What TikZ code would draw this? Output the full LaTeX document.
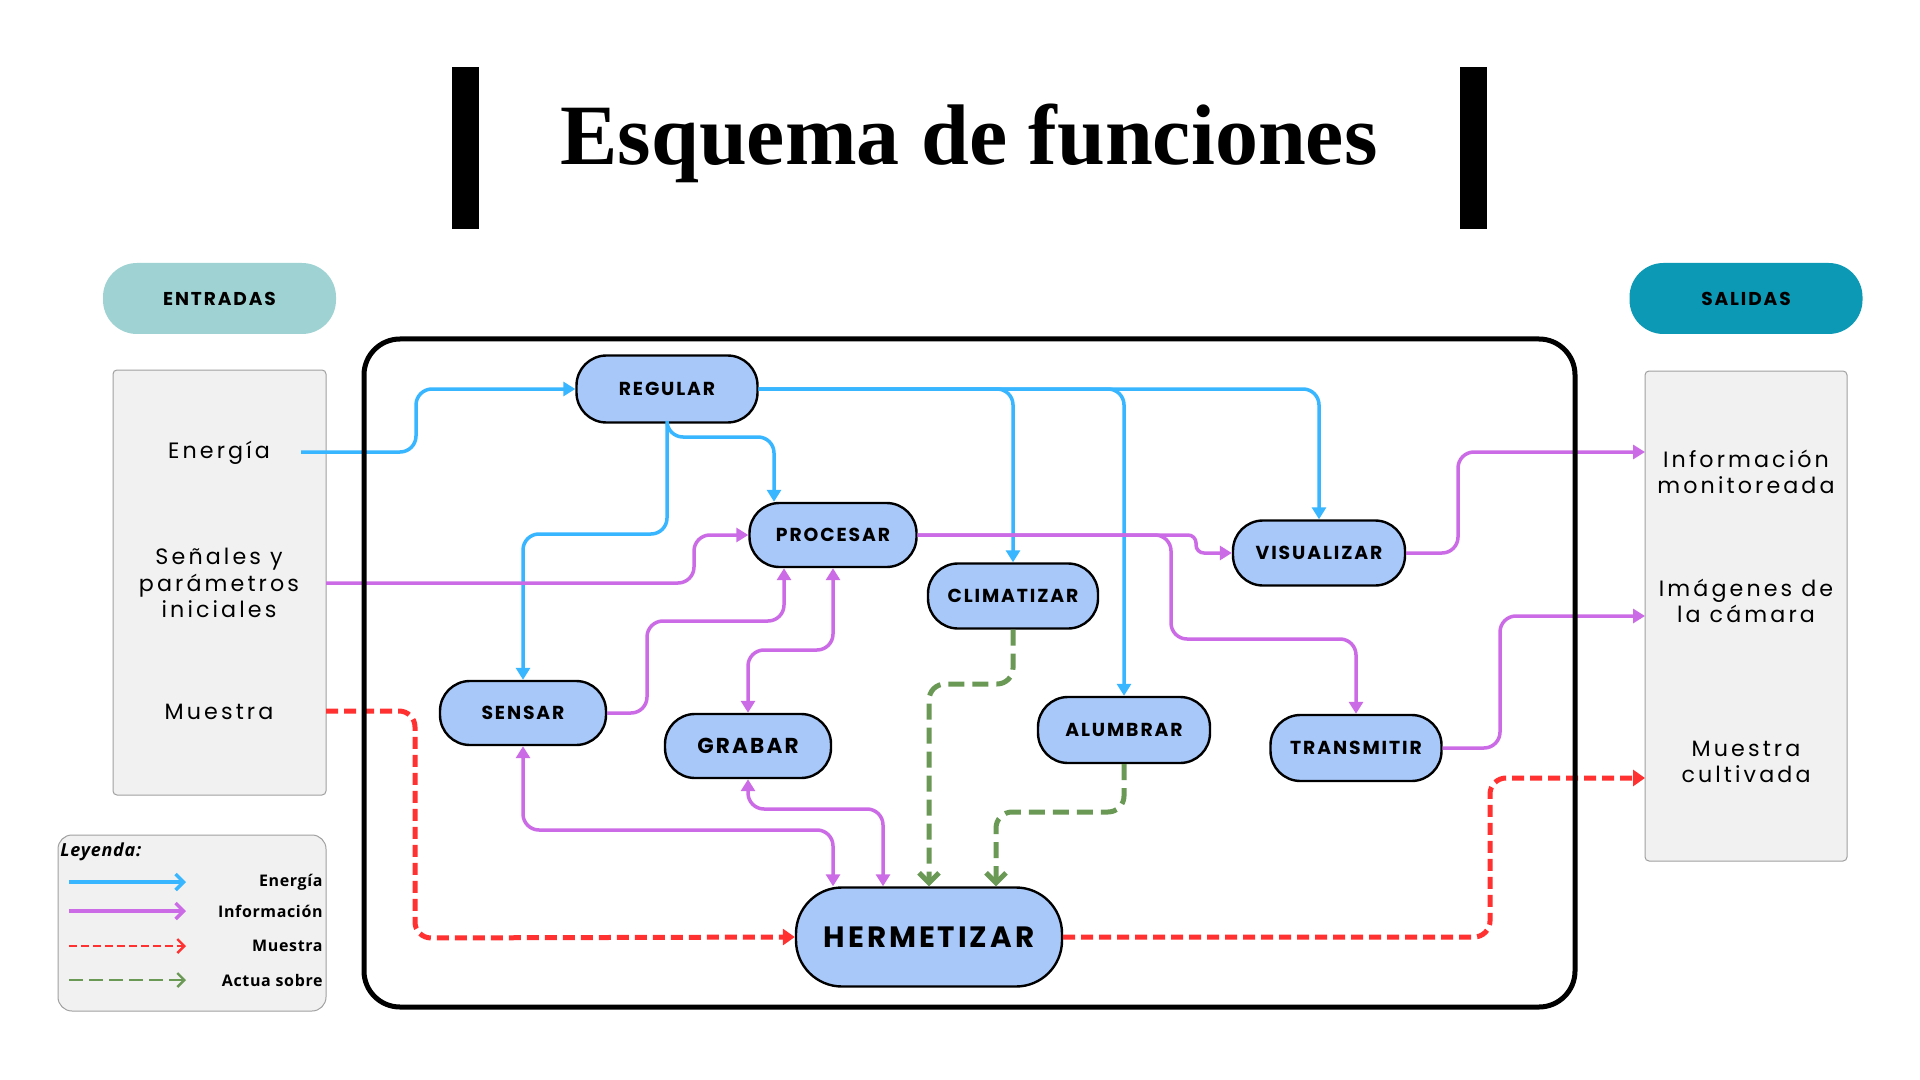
\documentclass[tikz,border=0pt]{standalone}
\usepackage{fontspec}
\usetikzlibrary{arrows.meta}
\setmainfont{Poppins}
\newfontfamily\titlefont{Liberation Serif}
\newfontfamily\nodefont[LetterSpace=10]{Poppins}
\newfontfamily\bodyfont[LetterSpace=14]{Poppins}
\newfontfamily\legfont[LetterSpace=4]{Open Sans}
\definecolor{eblue}{HTML}{38B6FF}
\definecolor{ipurple}{HTML}{CB6CE6}
\definecolor{sred}{HTML}{FF3131}
\definecolor{agreen}{HTML}{6A9955}
\definecolor{nodeblue}{HTML}{A8C8FA}
\definecolor{entcol}{HTML}{9FD3D3}
\definecolor{salcol}{HTML}{0B99B5}
\definecolor{boxgray}{HTML}{F1F1F1}
\definecolor{boxline}{HTML}{A0A0A0}
\tikzset{
  fn/.style={draw=black, line width=1.2pt, fill=nodeblue, inner sep=0pt, rounded corners=15pt,
    minimum width=84pt, minimum height=32.5pt, text=black,
    font=\nodefont\bfseries\fontsize{9.4}{10}\selectfont},
  pill/.style={inner sep=0pt, rounded corners=17pt, minimum width=116.5pt, minimum height=35.5pt,
    text=black, font=\nodefont\bfseries\fontsize{9.3}{10}\selectfont},
  graybox/.style={draw=boxline, line width=0.5pt, fill=boxgray, rounded corners=2pt, inner sep=0pt},
  body/.style={align=center, text=black, font=\bodyfont\fontsize{11.1}{13.2}\selectfont},
  tri/.style={-{Triangle[length=6pt,width=7pt]}},
  ener/.style={draw=eblue, line width=1.75pt, rounded corners=8pt, tri},
  info/.style={draw=ipurple, line width=1.75pt, rounded corners=8pt, tri},
  infob/.style={draw=ipurple, line width=1.75pt, rounded corners=8pt,
    {Triangle[length=6pt,width=7pt]}-{Triangle[length=6pt,width=7pt]}},
  sample/.style={draw=sred, line width=2.5pt, dash pattern=on 6pt off 3pt, rounded corners=8pt,
    -{Triangle[length=6pt,width=8pt]}},
  act/.style={draw=agreen, line width=2.5pt, dash pattern=on 8pt off 4pt, rounded corners=8pt,
    -{Straight Barb[length=5pt,width=10pt]}},
  leglab/.style={anchor=east, inner sep=0pt, text=black, font=\legfont\bfseries\fontsize{8}{9}\selectfont},
}
\begin{document}
\begin{tikzpicture}[x=0.5pt,y=-0.5pt]
\useasboundingbox[fill=white] (0,0) rectangle (1920,1080);

% title
\fill[black] (452,67) rectangle (479,229);
\fill[black] (1460,67) rectangle (1487,229);
\node (title) [anchor=base, inner sep=0pt, font=\titlefont\bfseries\fontsize{43}{50}\selectfont] at (969,165) {Esquema de funciones};

% pills
\node (entradas) [pill, fill=entcol] at (219.5,298.5) {ENTRADAS};
\node (salidas) [pill, fill=salcol] at (1746,298.5) {SALIDAS};

% side boxes
\node (leftbox) [graybox, minimum width=106.5pt, minimum height=212.5pt] at (219.5,582.5) {};
\node (rightbox) [graybox, minimum width=101pt, minimum height=245pt] at (1746,616) {};

\node (tEner) [body] at (219,453) {Energía};
\node (tSen) [body] at (219,583) {Señales y\\parámetros\\iniciales};
\node (tMue) [body] at (219,712) {Muestra};
\node (tInfo) [body] at (1746,472) {Información\\monitoreada};
\node (tImg) [body] at (1746,601) {Imágenes de\\la cámara};
\node (tCul) [body] at (1746,762) {Muestra\\cultivada};

\coordinate (eIn) at (301,452);
\coordinate (sIn) at (326,583);
\coordinate (mIn) at (326,711);
\coordinate (oInfo) at (1645,452);
\coordinate (oImg) at (1645,616);
\coordinate (oMue) at (1645,778);

% function nodes
\node (reg) [fn, minimum width=90.5pt, minimum height=33.5pt] at (667,389) {REGULAR};
\node (pro) [fn, minimum width=83.5pt, minimum height=32pt] at (833,535) {PROCESAR};
\node (cli) [fn, minimum width=85pt] at (1013,596) {CLIMATIZAR};
\node (vis) [fn, minimum width=86pt] at (1319,553) {VISUALIZAR};
\node (sen) [fn, minimum width=83pt, minimum height=32pt] at (523,713) {SENSAR};
\node (gra) [fn, minimum width=83pt, minimum height=32pt, font=\nodefont\bfseries\fontsize{10.8}{12}\selectfont] at (748,746) {GRABAR};
\node (alu) [fn, minimum width=86pt, minimum height=33pt] at (1124,730) {ALUMBRAR};
\node (tra) [fn, minimum width=85.5pt, minimum height=33pt] at (1356,748) {TRANSMITIR};
\node (her) [fn, minimum width=133pt, minimum height=49.5pt, rounded corners=23pt,
  font=\nodefont\bfseries\fontsize{14.7}{16}\selectfont] at (929,937) {HERMETIZAR};

% energy
\draw[ener] (eIn) -- (416,452) -- (416,389) -- (reg.west);
\draw[ener] (reg.east) -- (1013,389) -- (cli.north);
\draw[ener] (reg.east) -- (1124,389) -- (alu.north);
\draw[ener] (reg.east) -- (1319,389) -- (vis.north);
\draw[ener] (reg.south) -- (667,437) -- (774,437) -- (pro.north -| 774,0);
\draw[ener] (reg.south) -- (667,534) -- (523,534) -- (sen.north);

% information
\draw[info] (sIn) -- (694,583) -- (694,535) -- (pro.west);
\draw[info, rounded corners=4pt] (pro.east) -- (1196,535) -- (1196,553) -- (vis.west);
\draw[info] (pro.east) -- (1171,535) -- (1171,639) -- (1356,639) -- (tra.north);
\draw[info] (sen.east) -- (647,713) -- (647,621) -- (784,621) -- (pro.south -| 784,0);
\draw[infob] (pro.south) -- (833,650) -- (748,650) -- (gra.north);
\draw[infob] (sen.south) -- (523,830) -- (833,830) -- (her.north -| 833,0);
\draw[infob] (gra.south) -- (748,809) -- (883,809) -- (her.north -| 883,0);
\draw[info] (vis.east) -- (1458,553) -- (1458,452) -- (oInfo);
\draw[info] (tra.east) -- (1500,748) -- (1500,616) -- (oImg);

% sample
\draw[sample] (mIn) -- (415,711) -- (415,938) -- (her.west);
\draw[sample] (her.east) -- (1490,937) -- (1490,778) -- (oMue);

% acts on
\draw[act] (cli.south) -- (1013,684) -- (929,684) -- (her.north);
\draw[act] (alu.south) -- (1124,812) -- (996,812) -- (her.north -| 996,0);

% main frame
\draw[line width=2.5pt, rounded corners=18pt] (364,339) rectangle (1575,1007);

% legend
\node (legbox) [graybox, rounded corners=7pt, minimum width=134pt, minimum height=88pt] at (192,923) {};
\node (legtitle) [anchor=west, inner sep=0pt, text=black, font=\legfont\bfseries\itshape\fontsize{9}{10}\selectfont] at (60,852) {Leyenda:};
\coordinate (l1s) at (69,882); \coordinate (l1e) at (186,882);
\coordinate (l2s) at (69,911); \coordinate (l2e) at (186,911);
\coordinate (l3s) at (69,946); \coordinate (l3e) at (186,946);
\coordinate (l4s) at (69,980); \coordinate (l4e) at (186,980);
\draw[draw=eblue, line width=1.75pt, -{Straight Barb[length=4pt,width=8pt]}] (l1s) -- (l1e);
\draw[draw=ipurple, line width=1.75pt, -{Straight Barb[length=4pt,width=8pt]}] (l2s) -- (l2e);
\draw[draw=sred, line width=1.2pt, dash pattern=on 4pt off 2pt, -{Straight Barb[length=3.5pt,width=7pt]}] (l3s) -- (l3e);
\draw[draw=agreen, line width=1.2pt, dash pattern=on 7pt off 3pt, -{Straight Barb[length=3.5pt,width=7pt]}] (l4s) -- (l4e);
\node (lg1) [leglab] at (323,882) {Energía};
\node (lg2) [leglab] at (323,911) {Información};
\node (lg3) [leglab] at (323,946) {Muestra};
\node (lg4) [leglab] at (323,980) {Actua sobre};
\end{tikzpicture}
\end{document}
